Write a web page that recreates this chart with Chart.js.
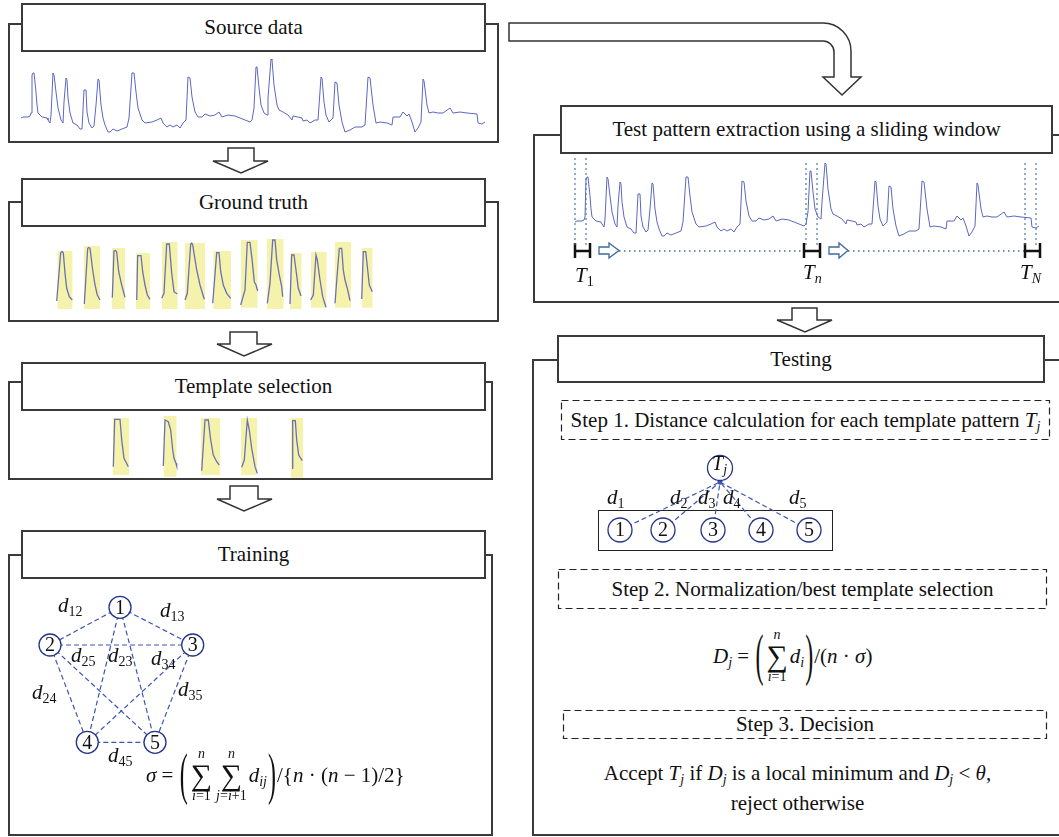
<!DOCTYPE html>
<html>
<head>
<meta charset="utf-8">
<script src="https://cdn.jsdelivr.net/npm/chart.js@4.4.1/dist/chart.umd.min.js"></script>
<style>
html, body { margin: 0; padding: 0; background: #fff; }
body { width: 1059px; height: 837px; position: relative; overflow: hidden;
       font-family: "Liberation Serif", "DejaVu Serif", serif; color: #111; }
.frame { position: absolute; border: 2px solid #3a3a3a; box-sizing: border-box; }
.title { position: absolute; border: 2px solid #3a3a3a; background: #fff; box-sizing: border-box;
         display: flex; align-items: center; justify-content: center; font-size: 21px; }
.step { position: absolute; box-sizing: border-box;
        display: flex; align-items: center; justify-content: center; font-size: 21px; white-space: nowrap; }
canvas { position: absolute; }
svg { position: absolute; left: 0; top: 0; }
.lbl { position: absolute; font-size: 21px; line-height: 21px; white-space: nowrap; font-style: italic; }
.lbl sub, .step sub, .txt sub, .eq sub { font-size: 14px; vertical-align: -4px; line-height: 0; }
.up { font-style: normal; }
.txt { position: absolute; font-size: 21px; line-height: 30px; text-align: center; white-space: nowrap; }
.eq { position: absolute; display: flex; align-items: center; font-size: 21px; white-space: nowrap; }
.sum { display: inline-flex; flex-direction: column; align-items: center; line-height: 1; margin: 0 2px; }
.sum .lim { font-size: 14px; line-height: 14px; }
.sum .sg { font-size: 30px; line-height: 28px; }
.bp { display: inline-block; font-size: 24px; transform: scale(1, 2.4); margin: 0 1px; }
</style>
</head>
<body>

<!-- frames, left column -->
<div class="frame" style="left:8px;top:23px;width:491px;height:120px"></div>
<div class="title" style="left:21px;top:3px;width:465px;height:49px">Source data</div>
<div class="frame" style="left:8px;top:201px;width:491px;height:121px"></div>
<div class="title" style="left:21px;top:178px;width:465px;height:49px">Ground truth</div>
<div class="frame" style="left:8px;top:381px;width:485px;height:99px"></div>
<div class="title" style="left:21px;top:362px;width:465px;height:49px">Template selection</div>
<div class="frame" style="left:8px;top:554px;width:485px;height:282px"></div>
<div class="title" style="left:21px;top:530px;width:465px;height:49px">Training</div>

<!-- frames, right column -->
<div class="frame" style="left:533px;top:134px;width:540px;height:169px"></div>
<div class="title" style="left:560px;top:105px;width:493px;height:49px">Test pattern extraction using a sliding window</div>
<div class="frame" style="left:532px;top:359px;width:540px;height:477px"></div>
<div class="title" style="left:557px;top:335px;width:488px;height:48px">Testing</div>

<div style="position:absolute;left:598px;top:510px;width:235px;height:41px;border:1.5px solid #222;box-sizing:border-box"></div>

<svg width="1059" height="837">
  <g fill="#fff" stroke="#333" stroke-width="1.5" stroke-linejoin="miter">
    <polygon points="228,148 254,148 254,161 268,161 241,173 213,161 228,161"/>
    <polygon points="230,332 257,332 257,344 272,344 244,356 217,344 230,344"/>
    <polygon points="230,486 258,486 258,499 272,499 244,511 217,499 230,499"/>
    <polygon points="792,308 817,308 817,320 832,320 805,332 777,320 792,320"/>
    <path d="M509,23 L823,23 A28,28 0 0 1 851,51 L851,77 L861,77 L842,95 L823,77 L834,77 L834,52 A11,11 0 0 0 823,41 L509,41 Z"/>
  </g>
  <g fill="none" stroke="#222" stroke-width="1.2" stroke-dasharray="7,4">
    <rect x="561.5" y="400.5" width="488" height="39"/>
    <rect x="558.5" y="569.5" width="488" height="39"/>
    <rect x="563.5" y="710.5" width="483" height="28"/>
  </g>
  <g fill="#fff" stroke="#3d6a9a" stroke-width="1.3">
    <polygon points="599,247 609,247 609,243 619,250.5 609,258 609,254 599,254"/>
    <polygon points="829,247 839,247 839,243 848,250.5 839,258 839,254 829,254"/>
  </g>
</svg>

<div class="step" style="left:561px;top:400px;width:489px;height:40px"><span>Step 1. Distance calculation for each template pattern <i>T</i><sub><i>j</i></sub></span></div>
<div class="step" style="left:558px;top:569px;width:489px;height:40px"><span>Step 2. Normalization/best template selection</span></div>
<div class="step" style="left:563px;top:710px;width:484px;height:29px"><span>Step 3. Decision</span></div>

<canvas id="cSrc" width="474" height="85" style="left:16px;top:55px"></canvas>
<canvas id="cGt" width="350" height="82" style="left:40px;top:232px"></canvas>
<canvas id="cTs" width="215" height="70" style="left:100px;top:412px"></canvas>
<canvas id="cTrain" width="190" height="170" style="left:30px;top:590px"></canvas>
<canvas id="cTest" width="490" height="120" style="left:565px;top:150px"></canvas>
<canvas id="cTj" width="250" height="100" style="left:590px;top:450px"></canvas>

<!-- edge labels, training -->
<div class="lbl" style="left:58px;top:595px">d<sub class="up">12</sub></div>
<div class="lbl" style="left:160px;top:600px">d<sub class="up">13</sub></div>
<div class="lbl" style="left:71px;top:645px">d<sub class="up">25</sub></div>
<div class="lbl" style="left:108px;top:645px">d<sub class="up">23</sub></div>
<div class="lbl" style="left:151px;top:648px">d<sub class="up">34</sub></div>
<div class="lbl" style="left:32px;top:682px">d<sub class="up">24</sub></div>
<div class="lbl" style="left:178px;top:679px">d<sub class="up">35</sub></div>
<div class="lbl" style="left:108px;top:745px">d<sub class="up">45</sub></div>

<!-- window labels -->
<div class="lbl" style="left:575px;top:265px">T<sub class="up">1</sub></div>
<div class="lbl" style="left:803px;top:262px">T<sub>n</sub></div>
<div class="lbl" style="left:1020px;top:262px">T<sub>N</sub></div>

<!-- distance labels, testing -->
<div class="lbl" style="left:607px;top:487px">d<sub class="up">1</sub></div>
<div class="lbl" style="left:670px;top:487px">d<sub class="up">2</sub></div>
<div class="lbl" style="left:698px;top:487px">d<sub class="up">3</sub></div>
<div class="lbl" style="left:723px;top:487px">d<sub class="up">4</sub></div>
<div class="lbl" style="left:789px;top:487px">d<sub class="up">5</sub></div>
<div class="lbl" style="left:712px;top:453px;font-size:20px">T<sub>j</sub></div>

<!-- sigma formula -->
<div class="eq" style="left:146px;top:744px;height:62px">
  <span><i>σ</i>&nbsp;=&nbsp;</span><span class="bp">(</span>
  <span class="sum"><i class="lim">n</i><span class="sg">∑</span><span class="lim"><i>i</i>=1</span></span>
  <span class="sum"><i class="lim">n</i><span class="sg">∑</span><span class="lim"><i>j</i>=<i>i</i>+1</span></span>
  <span><i>d</i><sub><i>ij</i></sub></span><span class="bp">)</span><span>/{<i>n</i>&nbsp;·&nbsp;(<i>n</i>&nbsp;−&nbsp;1)/2}</span>
</div>

<!-- D_j formula -->
<div class="eq" style="left:713px;top:618px;height:76px">
  <span><i>D</i><sub><i>j</i></sub>&nbsp;=&nbsp;</span><span class="bp">(</span>
  <span class="sum"><i class="lim">n</i><span class="sg">∑</span><span class="lim"><i>i</i>=1</span></span>
  <span><i>d</i><sub><i>i</i></sub></span><span class="bp">)</span><span>/(<i>n</i>&nbsp;·&nbsp;<i>σ</i>)</span>
</div>

<div class="txt" style="left:557px;top:758px;width:481px">Accept <i>T</i><sub><i>j</i></sub> if <i>D</i><sub><i>j</i></sub> is a local minimum and <i>D</i><sub><i>j</i></sub> &lt; <i>θ</i>,</div>
<div class="txt" style="left:557px;top:788px;width:481px">reject otherwise</div>

<script>
// source signal: sample index and amplitude
const sigT = [0, 2, 7, 9, 10, 11, 12, 13, 15, 16, 17, 21, 26, 27, 29, 30, 32, 33, 35, 37,
  40, 42, 43, 45, 46, 47, 49, 52, 56, 59, 61, 63, 65, 66, 68, 71, 73, 75, 77, 78,
  80, 82, 84, 87, 89, 92, 96, 101, 106, 108, 111, 113, 115, 117, 121, 124, 131, 136, 140, 142,
  146, 149, 152, 156, 159, 162, 165, 167, 169, 171, 174, 177, 181, 184, 189, 194, 198, 201, 207, 214,
  219, 224, 229, 231, 233, 235, 236, 238, 240, 243, 246, 247, 250, 251, 253, 256, 258, 262, 267, 271,
  272, 277, 281, 282, 286, 289, 294, 297, 300, 301, 303, 305, 308, 312, 314, 316, 318, 321, 324, 329,
  334, 341, 344, 347, 349, 352, 355, 359, 366, 371, 372, 379, 382, 386, 388, 391, 394, 397, 400, 402,
  403, 406, 408, 412, 417, 422, 429, 432, 439, 446, 456, 457, 461, 464];
const sigA = [17, 18, 18, 19, 22, 60, 62, 62, 43, 30, 22, 18, 17, 15, 12, 20, 62, 60, 43, 27,
  15, 12, 33, 57, 55, 37, 22, 12, 10, 6, 6, 45, 45, 23, 12, 7, 9, 30, 56, 55,
  30, 17, 10, 3, 3, 6, 4, 6, 8, 17, 62, 62, 43, 27, 15, 12, 13, 15, 17, 12,
  8, 10, 8, 10, 7, 12, 15, 58, 57, 38, 23, 18, 18, 21, 19, 20, 23, 18, 20, 19,
  17, 15, 13, 15, 27, 68, 68, 47, 30, 22, 20, 37, 76, 75, 50, 30, 25, 23, 20, 15,
  19, 18, 17, 14, 15, 12, 15, 15, 58, 57, 33, 20, 13, 17, 53, 52, 30, 13, 3, 5,
  8, 8, 10, 58, 57, 30, 12, 13, 12, 10, 18, 18, 23, 19, 21, 13, 3, 7, 13, 56,
  54, 30, 22, 23, 22, 22, 27, 22, 23, 22, 21, 12, 11, 13];

// ground truth: highlighted spans and the peak traces inside them
const gtX0 = [17.3, 44, 72, 96, 122, 145, 173.3, 201, 227, 250, 271, 295, 322];
const gtX1 = [32.7, 60, 85, 110, 137.7, 165, 191, 217.7, 243.7, 261.7, 286.7, 311, 332.7];
const gtTop = [63, 68, 66, 61, 72, 71, 63, 74, 75, 61, 62, 72, 66];
const gtBase = [5, 5, 5, 5, 5, 5, 5, 6.3, 5, 5, 6.3, 6.3, 6.3];
const gtPeaks = [
  [[16.7, 13], [20.7, 61.3], [22, 62.5], [23.3, 61.3], [25, 40.7], [26.7, 25.7], [29.3, 17.3], [32.3, 14]],
  [[44.3, 10], [47.7, 65.7], [49, 66.5], [50, 65.7], [52.7, 44], [55, 29], [57.3, 19], [60, 14]],
  [[72.3, 16.3], [74, 63], [75.5, 63.5], [76.7, 62], [78.7, 42.3], [81.7, 29], [85, 16.7]],
  [[96.7, 14], [97.7, 58.3], [101, 58.3], [102.7, 42.3], [105, 29], [107.3, 19], [110, 14.7]],
  [[121.7, 15.7], [124, 20.7], [126.7, 70], [129.3, 70], [131.7, 40.7], [134, 22.3], [137.3, 20]],
  [[145, 14], [147.3, 20.7], [150.7, 70], [151.7, 71], [152.7, 69], [156.7, 44], [160, 29], [164.3, 14.7]],
  [[172.7, 10.7], [176.7, 61.3], [179, 61.3], [180.7, 42.3], [183.3, 29], [186.7, 20.7], [190.7, 15.7]],
  [[200.7, 9], [205, 24], [207.3, 71.7], [210, 71.7], [212.3, 52.3], [214.3, 32.3], [216, 29], [217.7, 23]],
  [[227.3, 10.7], [230, 30.7], [232.7, 74], [235, 74], [236.7, 54], [239.3, 39], [241.7, 27.3], [242.7, 17.3]],
  [[250, 10], [251.7, 59], [254, 59], [256, 44], [258.3, 25.7], [261, 18]],
  [[270.7, 14], [273.3, 19], [276, 59], [277.3, 54], [280, 34], [282.7, 17.3], [286, 6.7]],
  [[295, 10.7], [297.3, 40.7], [299.3, 65.7], [301.7, 65.7], [303.3, 44], [305, 34], [307.3, 25.7], [310, 13.3]],
  [[321.7, 15], [323.3, 62.3], [325.7, 62.3], [327.7, 44], [329.3, 29], [332.3, 22.3]]
];

// selected templates
const tsX0 = [12.7, 64, 101, 141, 191];
const tsX1 = [29, 76.7, 120, 157.3, 203.3];
const tsTop = [64, 66, 64, 64, 64];
const tsBase = [7, 5.3, 7, 7, 4.3];
const tsPeaks = [
  [[13.3, 15.3], [14.7, 62.7], [20, 62.7], [21.7, 42], [24, 23.7], [28.3, 15.3]],
  [[63.3, 16], [65, 62], [68.3, 60.3], [70.7, 52], [72.7, 32], [74, 23.7], [76, 18.7], [76.7, 16]],
  [[101.7, 11.3], [105, 62], [108.3, 62], [110.7, 42], [113.3, 27], [116.7, 20.3], [119.3, 17]],
  [[141.7, 14.7], [144.3, 22], [147.3, 62], [149.3, 52], [151.7, 33.7], [155, 15.3], [157.3, 8.7]],
  [[192, 13.7], [192.7, 61.3], [195.3, 61.3], [196.7, 42], [198.7, 27], [202.3, 21.3]]
];

// training graph
const trainNodeX = [90, 20, 162.7, 57.3, 125];
const trainNodeY = [152.7, 115, 115, 17.7, 17.7];
const trainEdges = [[1, 2], [1, 3], [1, 4], [1, 5], [2, 3], [2, 4], [2, 5], [3, 4], [3, 5], [4, 5]];

// sliding windows (in sample index of the test signal)
const winStart = [0, 231, 450];
const winEnd = [11, 242, 461];
const winTop = [80.7, 75.7, 75.7];
const winBottom = -9;
const markStart = [0, 229, 450];
const markEnd = [15, 245, 465];
const slideFrom = [44, 273];
const slideTo = [229, 450];

// testing graph
const testNodeX = [30, 73, 123, 171, 219];
const testNodeY = [20, 20, 20, 20, 20];
const tjNode = [130, 82];

const BLUE = '#5b67c2';
const PEAK = '#6b70b5';
const YELLOW = '#f5f3ab';
const NODE = '#24358a';
const EDGE = '#3d55b3';
const DOT = '#3f6fa8';

const nodeText = {
  id: 'nodeText',
  afterDatasetsDraw(chart) {
    const ctx = chart.ctx;
    chart.data.datasets.forEach((ds, i) => {
      if (!ds.nodeLabels) return;
      const meta = chart.getDatasetMeta(i);
      ctx.save();
      ctx.font = '20px "Liberation Serif"';
      ctx.fillStyle = '#111';
      ctx.textAlign = 'center';
      ctx.textBaseline = 'middle';
      meta.data.forEach((pt, j) => ctx.fillText(ds.nodeLabels[j], pt.x, pt.y + 1));
      ctx.restore();
    });
  }
};

function plot(id, datasets, xr, yr) {
  return new Chart(document.getElementById(id), {
    type: 'line',
    data: { datasets },
    options: {
      responsive: false,
      animation: false,
      events: [],
      layout: { padding: 0, autoPadding: false },
      plugins: { legend: { display: false }, tooltip: { enabled: false } },
      scales: {
        x: { type: 'linear', display: false, min: xr[0], max: xr[1] },
        y: { type: 'linear', display: false, min: yr[0], max: yr[1] }
      },
      elements: { point: { radius: 0 }, line: { tension: 0 } }
    },
    plugins: [nodeText]
  });
}

const pts = (xs, ys) => xs.map((x, i) => ({ x, y: ys[i] }));
const signal = () => ({ data: pts(sigT, sigA), borderColor: BLUE, borderWidth: 1, clip: false });

function spans(x0, x1, top, base, peaks) {
  const out = [];
  x0.forEach((x, i) => out.push({
    data: [{ x, y: top[i] }, { x: x1[i], y: top[i] }],
    fill: { value: base[i] }, backgroundColor: YELLOW,
    borderColor: 'rgba(0,0,0,0)', borderWidth: 0, order: 2
  }));
  peaks.forEach(p => out.push({
    data: p.map(q => ({ x: q[0], y: q[1] })),
    borderColor: PEAK, borderWidth: 1.3, order: 0
  }));
  return out;
}

plot('cSrc', [signal()], [-5, 469], [-5, 80]);
plot('cGt', spans(gtX0, gtX1, gtTop, gtBase, gtPeaks), [0, 350], [0, 82]);
plot('cTs', spans(tsX0, tsX1, tsTop, tsBase, tsPeaks), [0, 215], [0, 70]);

// training graph
const trainDs = trainEdges.map(([a, b]) => ({
  data: [{ x: trainNodeX[a - 1], y: trainNodeY[a - 1] }, { x: trainNodeX[b - 1], y: trainNodeY[b - 1] }],
  borderColor: EDGE, borderWidth: 1.2, borderDash: [5, 3], order: 1
}));
trainDs.push({
  data: pts(trainNodeX, trainNodeY), showLine: false,
  pointRadius: 11, pointBackgroundColor: '#fff', pointBorderColor: NODE, pointBorderWidth: 1.3,
  nodeLabels: ['1', '2', '3', '4', '5'], order: 0
});
plot('cTrain', trainDs, [0, 190], [0, 170]);

// test signal with sliding windows
const testDs = [signal()];
winStart.forEach((s, i) => {
  testDs.push({
    data: [{ x: s, y: winTop[i] }, { x: s, y: winBottom }, { x: s, y: null },
           { x: winEnd[i], y: winTop[i] }, { x: winEnd[i], y: winBottom }],
    borderColor: DOT, borderWidth: 1.5, borderDash: [1.5, 3.5]
  });
  testDs.push({
    data: [{ x: markStart[i], y: -4 }, { x: markStart[i], y: -19 }, { x: markStart[i], y: null },
           { x: markStart[i], y: -12 }, { x: markEnd[i], y: -12 }, { x: markEnd[i], y: null },
           { x: markEnd[i], y: -4 }, { x: markEnd[i], y: -19 }],
    borderColor: '#111', borderWidth: 2.5
  });
});
slideFrom.forEach((s, i) => testDs.push({
  data: [{ x: s, y: -12 }, { x: slideTo[i], y: -12 }],
  borderColor: DOT, borderWidth: 1.5, borderDash: [1.5, 3.5]
}));
plot('cTest', testDs, [-10, 480], [-31, 89]);

// testing graph: every candidate node points at T_j
const tjR = 14;
const tjDs = testNodeX.map((x, i) => {
  const y = testNodeY[i];
  const rot = Math.atan2(tjNode[0] - x, tjNode[1] - y) * 180 / Math.PI;
  return {
    data: [{ x, y }, { x: tjNode[0], y: tjNode[1] - tjR }],
    borderColor: EDGE, borderWidth: 1.2, borderDash: [5, 3], order: 1,
    pointRadius: [0, 3], pointStyle: 'triangle', pointRotation: [0, rot],
    pointBackgroundColor: EDGE, pointBorderColor: EDGE, pointBorderWidth: 0
  };
});
tjDs.push({
  data: pts(testNodeX, testNodeY), showLine: false,
  pointRadius: 12, pointBackgroundColor: '#fff', pointBorderColor: NODE, pointBorderWidth: 1.3,
  nodeLabels: ['1', '2', '3', '4', '5'], order: 0
});
tjDs.push({
  data: [{ x: tjNode[0], y: tjNode[1] }], showLine: false,
  pointRadius: 12.5, pointBackgroundColor: '#fff', pointBorderColor: NODE, pointBorderWidth: 1.3, order: 0
});
plot('cTj', tjDs, [0, 250], [0, 100]);
</script>
</body>
</html>
